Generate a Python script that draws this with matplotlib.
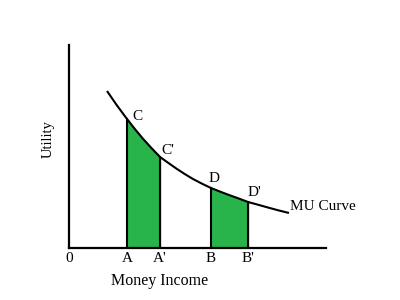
import matplotlib
matplotlib.use("Agg")
import matplotlib.pyplot as plt
import numpy as np

# Data
income = [38, 48, 58, 66, 74, 82, 91, 100, 108, 116, 124, 133, 142,
          151, 160, 170, 179, 190, 200, 210, 220]
utility = [157, 142.5, 129, 118.8, 109.2, 100.4, 91, 84.6, 79, 73.8, 69,
           64.3, 60, 56.4, 53, 49.4, 46, 43, 40.2, 37.5, 35]
tick_names = ["A", "A'", "B", "B'"]
tick_pos = [58, 91, 142, 179]
point_names = ["C", "C'", "D", "D'"]
spans = [(58, 91), (142, 179)]

FONT = "Liberation Serif"
GREEN = "#28B34B"

fig = plt.figure(figsize=(4, 3), dpi=100)
ax = fig.add_axes([69 / 400, 52 / 300, 257 / 400, 203 / 300])
ax.set_xlim(0, 257)
ax.set_ylim(0, 203)
for s in ["top", "right"]:
    ax.spines[s].set_visible(False)
for s in ["left", "bottom"]:
    ax.spines[s].set_linewidth(1.6)

x = np.array(income)
y = np.array(utility)

# shaded areas
for lo, hi in spans:
    m = (x >= lo) & (x <= hi)
    ax.fill_between(x[m], 0, y[m], color=GREEN, zorder=1)
    ax.plot([lo, lo], [0, y[x == lo][0]], color="black", lw=1.5, zorder=2)
    ax.plot([hi, hi], [0, y[x == hi][0]], color="black", lw=1.5, zorder=2)

ax.plot(x, y, color="black", lw=1.5, zorder=3, solid_capstyle="butt",
        solid_joinstyle="round")

# point labels
offsets = [(10, 3), (8, 6), (3, 10), (6, 10)]
for name, px, (dx, dy) in zip(point_names, tick_pos, offsets):
    py = y[x == px][0]
    ax.text(px + dx, py + dy, name, fontsize=11, family=FONT,
            ha="center", va="center")

ax.set_xticks([0] + tick_pos)
ax.set_xticklabels(["0"] + tick_names, family=FONT, fontsize=11)
ax.tick_params(axis="x", length=0, pad=3)
ax.set_yticks([])

ax.text(91, -33, "Money Income", family=FONT, fontsize=11.5,
        ha="center", va="center")
ax.text(-21, 109, "Utility", family=FONT, fontsize=10.5, rotation=90,
        ha="center", va="center")
ax.text(x[-1] + 1, y[-1] + 6, "MU Curve", family=FONT, fontsize=11,
        ha="left", va="center")

fig.savefig("out.png", dpi=100)
